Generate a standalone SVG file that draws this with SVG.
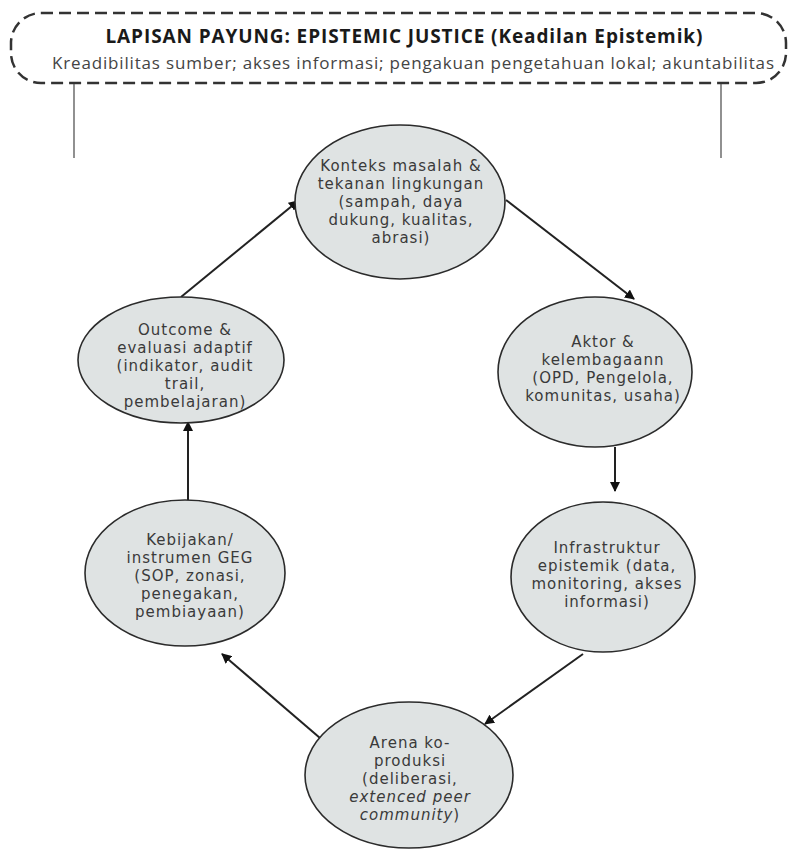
<svg xmlns="http://www.w3.org/2000/svg" width="790" height="851" viewBox="0 0 790 851">
<style>
.node ellipse{fill:#dfe3e3;stroke:#2b2b2b;stroke-width:1.6}
.node text{font-family:"DejaVu Sans","Open Sans",sans-serif;font-size:15px;letter-spacing:1px;fill:#3a3a3a;text-anchor:middle}
.conn line{stroke:#222;stroke-width:2}
.guide{stroke:#555;stroke-width:1.3}
.title{font-family:"Open Sans","Noto Sans",sans-serif;font-weight:bold;font-size:19px;fill:#1a1a1a;text-anchor:middle}
.sub{font-family:"Open Sans","Noto Sans",sans-serif;font-size:17px;fill:#444;text-anchor:middle}
</style>
<defs>
<marker id="arr" viewBox="0 0 10 10" refX="9" refY="5" markerWidth="5" markerHeight="5" orient="auto" markerUnits="strokeWidth">
<path d="M0,0 L10,5 L0,10 z" fill="#111"/>
</marker>
</defs>
<rect width="790" height="851" fill="#fff"/>
<g id="umbrella">
<rect x="11" y="13" width="775" height="70" rx="30" ry="30" fill="none" stroke="#333" stroke-width="2.5" stroke-dasharray="12 6"/>
<text class="title" x="404" y="43" textLength="597" lengthAdjust="spacing">LAPISAN PAYUNG: EPISTEMIC JUSTICE (Keadilan Epistemik)</text>
<text class="sub" x="413" y="69" textLength="722" lengthAdjust="spacing">Kreadibilitas sumber; akses informasi; pengakuan pengetahuan lokal; akuntabilitas</text>
<line class="guide" x1="74" y1="84" x2="74" y2="158"/>
<line class="guide" x1="721" y1="84" x2="721" y2="158"/>
</g>
<g class="conn" id="connectors">
<line x1="181" y1="297" x2="298" y2="201" marker-end="url(#arr)"/>
<line x1="506" y1="200" x2="634" y2="299" marker-end="url(#arr)"/>
<line x1="615" y1="447" x2="615" y2="491" marker-end="url(#arr)"/>
<line x1="583" y1="654" x2="485" y2="724" marker-end="url(#arr)"/>
<line x1="320" y1="738" x2="222" y2="654" marker-end="url(#arr)"/>
<line x1="188" y1="500" x2="188" y2="422" marker-end="url(#arr)"/>
</g>
<g class="node" id="n-konteks">
<ellipse cx="400" cy="202" rx="105" ry="77"/>
<text x="401" y="171">Konteks masalah &amp;</text>
<text x="401" y="189">tekanan lingkungan</text>
<text x="401" y="207">(sampah, daya</text>
<text x="401" y="225">dukung, kualitas,</text>
<text x="401" y="243">abrasi)</text>
</g>
<g class="node" id="n-aktor">
<ellipse cx="595" cy="372" rx="97" ry="75"/>
<text x="603" y="347">Aktor &amp;</text>
<text x="603" y="365">kelembagaann</text>
<text x="603" y="383">(OPD, Pengelola,</text>
<text x="603" y="401">komunitas, usaha)</text>
</g>
<g class="node" id="n-infra">
<ellipse cx="603" cy="577" rx="92" ry="75"/>
<text x="607" y="553">Infrastruktur</text>
<text x="607" y="571">epistemik (data,</text>
<text x="607" y="589">monitoring, akses</text>
<text x="607" y="607">informasi)</text>
</g>
<g class="node" id="n-arena">
<ellipse cx="409" cy="775" rx="104" ry="73"/>
<text x="410" y="748">Arena ko-</text>
<text x="410" y="766">produksi</text>
<text x="410" y="784">(deliberasi,</text>
<text x="410" y="802" font-style="italic">extenced peer</text>
<text x="410" y="820"><tspan font-style="italic">community</tspan>)</text>
</g>
<g class="node" id="n-kebijakan">
<ellipse cx="185" cy="573" rx="100" ry="73"/>
<text x="190" y="545">Kebijakan/</text>
<text x="190" y="563">instrumen GEG</text>
<text x="190" y="581">(SOP, zonasi,</text>
<text x="190" y="599">penegakan,</text>
<text x="190" y="617">pembiayaan)</text>
</g>
<g class="node" id="n-outcome">
<ellipse cx="181" cy="360" rx="103" ry="63"/>
<text x="185" y="335">Outcome &amp;</text>
<text x="185" y="353">evaluasi adaptif</text>
<text x="185" y="371">(indikator, audit</text>
<text x="185" y="389">trail,</text>
<text x="185" y="407">pembelajaran)</text>
</g>
</svg>
